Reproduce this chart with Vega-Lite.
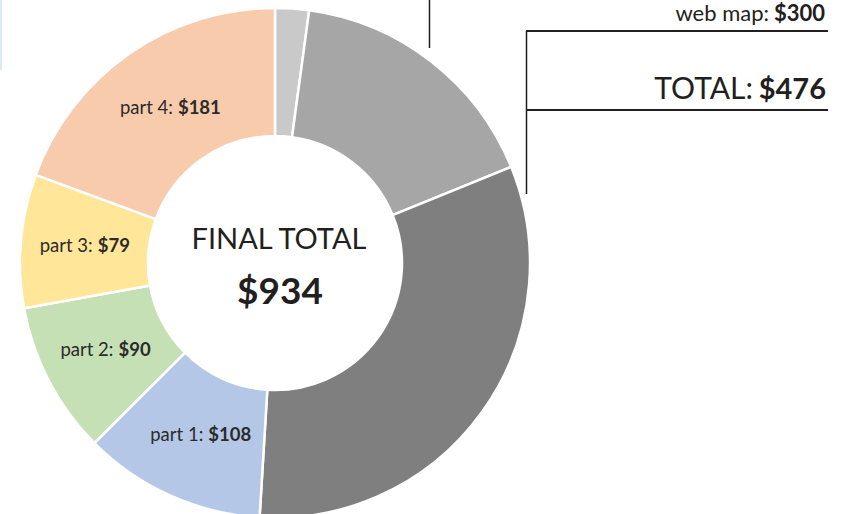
{
  "$schema": "https://vega.github.io/schema/vega-lite/v6.json",
  "width": 850,
  "height": 514,
  "autosize": {"type": "none"},
  "padding": 0,
  "background": "white",
  "config": {"view": {"stroke": null}, "font": "Lato"},
  "data": {"values": [
    {"name": "item 1", "value": 20, "ord": 1, "lab": "", "amt": ""},
    {"name": "item 2", "value": 156, "ord": 2, "lab": "", "amt": ""},
    {"name": "web map", "value": 300, "ord": 3, "lab": "", "amt": ""},
    {"name": "part 1", "value": 108, "ord": 4, "lab": "part 1:", "amt": "$108"},
    {"name": "part 2", "value": 90, "ord": 5, "lab": "part 2:", "amt": "$90"},
    {"name": "part 3", "value": 79, "ord": 6, "lab": "part 3:", "amt": "$79"},
    {"name": "part 4", "value": 181, "ord": 7, "lab": "part 4:", "amt": "$181"}
  ]},
  "resolve": {"scale": {"x": "shared", "y": "shared"}},
  "layer": [
    {
      "mark": {"type": "arc", "radius": 255, "radius2": 127, "stroke": "white", "strokeWidth": 2.5},
      "encoding": {
        "theta": {"field": "value", "type": "quantitative", "stack": true},
        "order": {"field": "ord", "type": "quantitative"},
        "color": {"field": "name", "type": "nominal", "legend": null,
          "scale": {"domain": ["item 1", "item 2", "web map", "part 1", "part 2", "part 3", "part 4"],
                    "range": ["#c9c9c9", "#a6a6a6", "#7f7f7f", "#b4c7e7", "#c5e0b4", "#ffe699", "#f8cbad"]}},
        "x": {"datum": 275, "type": "quantitative", "scale": {"domain": [0, 850], "nice": false, "zero": false}, "axis": null},
        "y": {"datum": 263, "type": "quantitative", "scale": {"domain": [0, 514], "nice": false, "zero": false, "reverse": true}, "axis": null}
      }
    },
    {
      "mark": {"type": "text", "radius": 189, "align": "right", "baseline": "middle", "dx": 6, "fontSize": 18.5, "color": "#2b2b2b"},
      "encoding": {
        "theta": {"field": "value", "type": "quantitative", "stack": true},
        "order": {"field": "ord", "type": "quantitative"},
        "text": {"field": "lab"},
        "x": {"datum": 275, "type": "quantitative"},
        "y": {"datum": 263, "type": "quantitative"}
      }
    },
    {
      "mark": {"type": "text", "radius": 189, "align": "left", "baseline": "middle", "dx": 11, "fontSize": 18.5, "fontWeight": "bold", "color": "#2b2b2b"},
      "encoding": {
        "theta": {"field": "value", "type": "quantitative", "stack": true},
        "order": {"field": "ord", "type": "quantitative"},
        "text": {"field": "amt"},
        "x": {"datum": 275, "type": "quantitative"},
        "y": {"datum": 263, "type": "quantitative"}
      }
    },
    {
      "data": {"values": [{"t": "FINAL TOTAL"}]},
      "mark": {"type": "text", "align": "center", "baseline": "alphabetic", "fontSize": 29, "color": "#231f20"},
      "encoding": {"text": {"field": "t"}, "x": {"datum": 279, "type": "quantitative"}, "y": {"datum": 249, "type": "quantitative"}}
    },
    {
      "data": {"values": [{"t": "$934"}]},
      "mark": {"type": "text", "align": "center", "baseline": "alphabetic", "fontSize": 37, "fontWeight": "bold", "color": "#231f20"},
      "encoding": {"text": {"field": "t"}, "x": {"datum": 280, "type": "quantitative"}, "y": {"datum": 304, "type": "quantitative"}}
    },
    {
      "data": {"values": [{"t": "web map:"}]},
      "mark": {"type": "text", "align": "right", "baseline": "alphabetic", "fontSize": 22, "color": "#231f20"},
      "encoding": {"text": {"field": "t"}, "x": {"datum": 769, "type": "quantitative"}, "y": {"datum": 21, "type": "quantitative"}}
    },
    {
      "data": {"values": [{"t": "$300"}]},
      "mark": {"type": "text", "align": "right", "baseline": "alphabetic", "fontSize": 22, "fontWeight": "bold", "color": "#231f20"},
      "encoding": {"text": {"field": "t"}, "x": {"datum": 825, "type": "quantitative"}, "y": {"datum": 21, "type": "quantitative"}}
    },
    {
      "data": {"values": [{"t": "TOTAL:"}]},
      "mark": {"type": "text", "align": "right", "baseline": "alphabetic", "fontSize": 30, "color": "#231f20"},
      "encoding": {"text": {"field": "t"}, "x": {"datum": 753, "type": "quantitative"}, "y": {"datum": 99, "type": "quantitative"}}
    },
    {
      "data": {"values": [{"t": "$476"}]},
      "mark": {"type": "text", "align": "right", "baseline": "alphabetic", "fontSize": 29, "fontWeight": "bold", "color": "#231f20"},
      "encoding": {"text": {"field": "t"}, "x": {"datum": 826, "type": "quantitative"}, "y": {"datum": 99, "type": "quantitative"}}
    },
    {
      "data": {"values": [{}]},
      "mark": {"type": "rule", "color": "#231f20", "strokeWidth": 2},
      "encoding": {"x": {"datum": 526, "type": "quantitative"}, "x2": {"datum": 828}, "y": {"datum": 31, "type": "quantitative"}}
    },
    {
      "data": {"values": [{}]},
      "mark": {"type": "rule", "color": "#231f20", "strokeWidth": 2},
      "encoding": {"x": {"datum": 526, "type": "quantitative"}, "x2": {"datum": 828}, "y": {"datum": 110, "type": "quantitative"}}
    },
    {
      "data": {"values": [{}]},
      "mark": {"type": "rule", "color": "#231f20", "strokeWidth": 1.5},
      "encoding": {"x": {"datum": 526.5, "type": "quantitative"}, "y": {"datum": 31, "type": "quantitative"}, "y2": {"datum": 194}}
    },
    {
      "data": {"values": [{}]},
      "mark": {"type": "rule", "color": "#231f20", "strokeWidth": 1.5},
      "encoding": {"x": {"datum": 429.5, "type": "quantitative"}, "y": {"datum": 0, "type": "quantitative"}, "y2": {"datum": 48}}
    },
    {
      "data": {"values": [{}]},
      "mark": {"type": "rule", "color": "#cfe3ea", "strokeWidth": 1.5},
      "encoding": {"x": {"datum": 1, "type": "quantitative"}, "y": {"datum": 0, "type": "quantitative"}, "y2": {"datum": 70}}
    }
  ]
}
